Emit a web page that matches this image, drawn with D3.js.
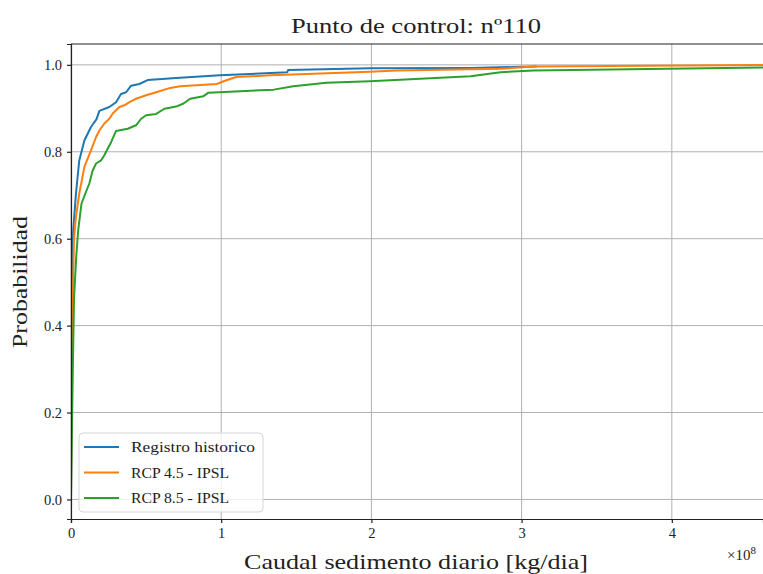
<!DOCTYPE html>
<html>
<head>
<meta charset="utf-8">
<script src="https://cdn.jsdelivr.net/npm/d3@7"></script>
<style>
  body { margin: 0; background: #fff; }
  svg { display: block; font-family: "Liberation Serif", "DejaVu Serif", serif; }
</style>
</head>
<body>
<svg id="chart" width="763" height="574"></svg>
<script>
const histX = [0, 0.003, 0.009, 0.015, 0.033, 0.055, 0.089, 0.133, 0.17, 0.189, 0.255, 0.30, 0.333, 0.367, 0.40, 0.455, 0.51, 0.70, 0.99, 1.44, 1.445, 1.99, 2.66, 2.95, 3.1];
const histP = [0.0, 0.35, 0.55, 0.62, 0.704, 0.78, 0.826, 0.857, 0.875, 0.894, 0.903, 0.914, 0.933, 0.937, 0.952, 0.956, 0.965, 0.970, 0.976, 0.983, 0.988, 0.992, 0.993, 0.995, 0.996];

const rcp45X = [0, 0.005, 0.02, 0.033, 0.055, 0.089, 0.133, 0.167, 0.189, 0.222, 0.255, 0.278, 0.322, 0.355, 0.389, 0.433, 0.50, 0.567, 0.66, 0.727, 0.97, 1.03, 1.10, 1.33, 1.99, 2.17, 2.66, 2.86, 3.08, 4.8];
const rcp45P = [0.0, 0.35, 0.60, 0.65, 0.704, 0.765, 0.803, 0.834, 0.849, 0.865, 0.876, 0.888, 0.903, 0.907, 0.914, 0.922, 0.930, 0.937, 0.947, 0.951, 0.956, 0.964, 0.972, 0.976, 0.984, 0.987, 0.990, 0.991, 0.996, 1.0];

const rcp85X = [0, 0.011, 0.02, 0.035, 0.048, 0.07, 0.10, 0.122, 0.144, 0.167, 0.20, 0.222, 0.244, 0.267, 0.30, 0.378, 0.433, 0.467, 0.50, 0.567, 0.622, 0.70, 0.749, 0.793, 0.882, 0.915, 1.35, 1.48, 1.70, 1.99, 2.66, 2.86, 3.08, 4.8];
const rcp85P = [0.0, 0.275, 0.46, 0.56, 0.62, 0.681, 0.708, 0.727, 0.757, 0.773, 0.780, 0.792, 0.807, 0.822, 0.848, 0.853, 0.861, 0.876, 0.884, 0.887, 0.899, 0.904, 0.911, 0.922, 0.928, 0.936, 0.943, 0.951, 0.959, 0.962, 0.974, 0.983, 0.987, 0.995];

const seriesNames = ["Registro historico", "RCP 4.5 - IPSL", "RCP 8.5 - IPSL"];
const seriesColors = ["#1f77b4", "#ff7f0e", "#2ca02c"];
const xTicks = [0, 1, 2, 3, 4];
const yTicks = [0.0, 0.2, 0.4, 0.6, 0.8, 1.0];

const series = [
    { name: seriesNames[0], color: seriesColors[0], pts: histX.map((v, i) => [v, histP[i]]) },
    { name: seriesNames[1], color: seriesColors[1], pts: rcp45X.map((v, i) => [v, rcp45P[i]]) },
    { name: seriesNames[2], color: seriesColors[2], pts: rcp85X.map((v, i) => [v, rcp85P[i]]) }
];

const margin = { top: 44, right: 0, bottom: 55, left: 71 };
const width = 763 - margin.left - margin.right,
      height = 574 - margin.top - margin.bottom;

const x = d3.scaleLinear().domain([0, 4.607]).range([0, width]);
const y = d3.scaleLinear().domain([-0.045, 1.048]).range([height, 0]);

const svg = d3.select("#chart");
const g = svg.append("g").attr("transform", `translate(${margin.left},${margin.top})`);

g.append("clipPath").attr("id", "clip")
    .append("rect").attr("width", width).attr("height", height);

// grid
g.append("g").selectAll("line").data(xTicks).join("line")
    .attr("x1", d => x(d)).attr("x2", d => x(d))
    .attr("y1", 0).attr("y2", height)
    .attr("stroke", "#b0b0b0").attr("stroke-width", 1);
g.append("g").selectAll("line").data(yTicks).join("line")
    .attr("x1", 0).attr("x2", width)
    .attr("y1", d => y(d)).attr("y2", d => y(d))
    .attr("stroke", "#b0b0b0").attr("stroke-width", 1);

// curves
const line = d3.line().x(d => x(d[0])).y(d => y(d[1]));
g.append("g").attr("clip-path", "url(#clip)")
    .selectAll("path").data(series).join("path")
    .attr("d", d => line(d.pts))
    .attr("fill", "none")
    .attr("stroke", d => d.color)
    .attr("stroke-width", 2)
    .attr("stroke-linejoin", "round");

// axes
const xAxis = g.append("g").attr("transform", `translate(0,${height})`)
    .call(d3.axisBottom(x).tickValues(xTicks).tickFormat(d3.format("d")).tickSize(4).tickPadding(5));
const yAxis = g.append("g")
    .call(d3.axisLeft(y).tickValues(yTicks).tickFormat(d3.format(".1f")).tickSize(4).tickPadding(5));
[xAxis, yAxis].forEach(a => {
    a.select(".domain").attr("stroke", "#222").attr("stroke-width", 1.2);
    a.selectAll(".tick line").attr("stroke", "#222").attr("stroke-width", 1.2);
    a.selectAll(".tick text").attr("font-family", "Liberation Serif, serif").attr("font-size", 14.5).attr("fill", "#222");
});
// top spine
g.append("line").attr("x1", 0).attr("x2", width).attr("y1", 0).attr("y2", 0)
    .attr("stroke", "#222").attr("stroke-width", 1.2);

// legend
const legendLen = [124, 98, 98];
const leg = g.append("g").attr("transform", "translate(8,389)");
leg.append("rect").attr("width", 184).attr("height", 79).attr("rx", 4)
    .attr("fill", "#fff").attr("fill-opacity", 0.8)
    .attr("stroke", "#d6d6d6").attr("stroke-width", 1);
const items = leg.selectAll(".item").data(series).join("g")
    .attr("transform", (d, i) => `translate(0,${14 + i * 25.5})`);
items.append("line").attr("x1", 5).attr("x2", 40)
    .attr("stroke", d => d.color).attr("stroke-width", 2);
items.append("text").attr("x", 52).attr("y", 5)
    .attr("font-size", 15).attr("fill", "#222")
    .attr("textLength", (d, i) => legendLen[i]).attr("lengthAdjust", "spacingAndGlyphs")
    .text(d => d.name);

// texts
svg.append("text").attr("x", 416).attr("y", 33).attr("text-anchor", "middle")
    .attr("font-size", 22).attr("fill", "#222")
    .attr("textLength", 250).attr("lengthAdjust", "spacingAndGlyphs")
    .text("Punto de control: nº110");
svg.append("text").attr("x", 416).attr("y", 569).attr("text-anchor", "middle")
    .attr("font-size", 22).attr("fill", "#222")
    .attr("textLength", 344).attr("lengthAdjust", "spacingAndGlyphs")
    .text("Caudal sedimento diario [kg/dia]");
svg.append("text").attr("transform", "translate(27,282) rotate(-90)").attr("text-anchor", "middle")
    .attr("font-size", 22).attr("fill", "#222")
    .attr("textLength", 132).attr("lengthAdjust", "spacingAndGlyphs")
    .text("Probabilidad");
const mult = svg.append("text").attr("x", 727).attr("y", 560)
    .attr("font-size", 15).attr("fill", "#222");
mult.append("tspan").text("×10");
mult.append("tspan").attr("font-size", 11).attr("dy", -6).text("8");
</script>
</body>
</html>
